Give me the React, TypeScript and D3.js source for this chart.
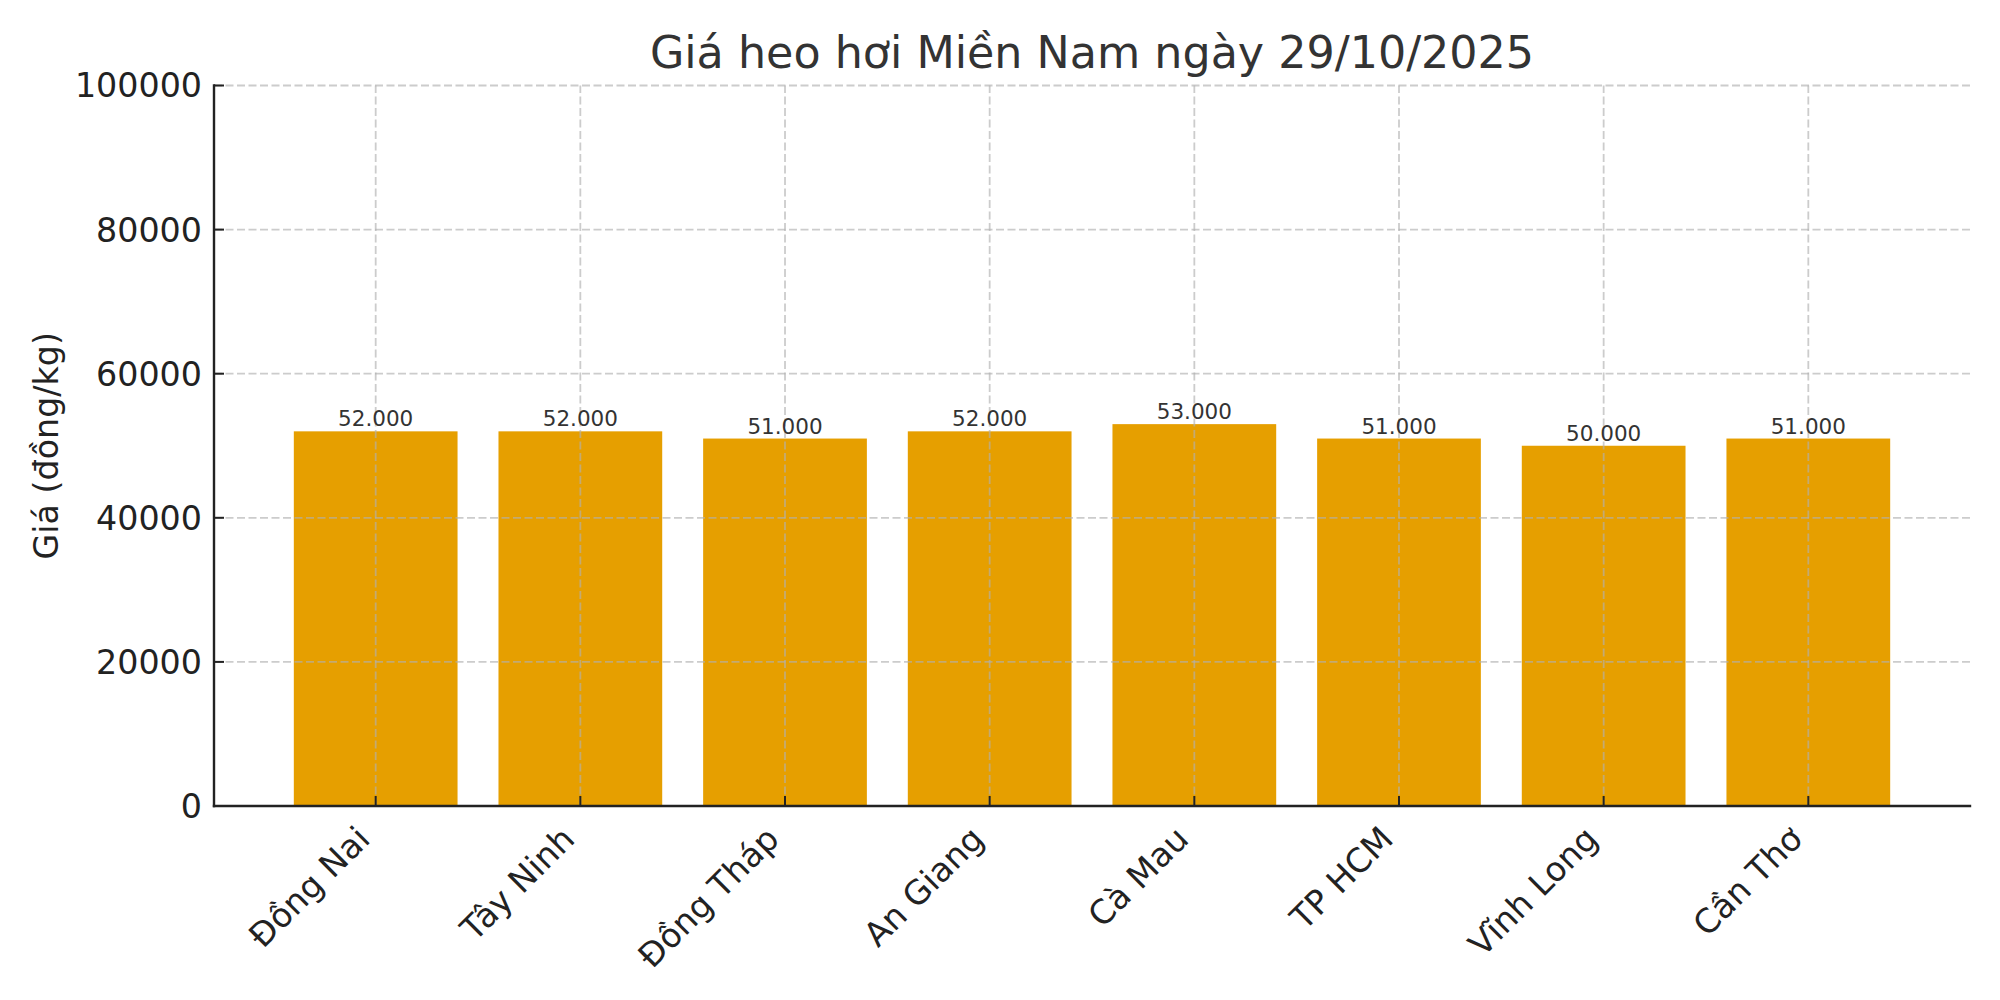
import React from "react";
import * as d3 from "d3";

const categories = ["Đồng Nai", "Tây Ninh", "Đồng Tháp", "An Giang", "Cà Mau", "TP HCM", "Vĩnh Long", "Cần Thơ"];
const prices = [52000, 52000, 51000, 52000, 53000, 51000, 50000, 51000];
const yTicks = [0, 20000, 40000, 60000, 80000, 100000];
const title = "Giá heo hơi Miền Nam ngày 29/10/2025";
const yLabel = "Giá (đồng/kg)";

const W = 2000;
const H = 1000;
const M = { left: 214, right: 30, top: 85.5, bottom: 194 };
const FONT = "'DejaVu Sans', sans-serif";
const BAR = "#E69F00";

const viLocale = d3.formatLocale({ decimal: ",", thousands: ".", grouping: [3], currency: ["", "đ"] });
const fmtVal = viLocale.format(",d");
const fmtTick = d3.format("d");

export default function App() {
  const barW = 0.8;
  const lo = -barW / 2;
  const hi = categories.length - 1 + barW / 2;
  const pad = (hi - lo) * 0.05;
  const x = d3.scaleLinear().domain([lo - pad, hi + pad]).range([M.left, W - M.right]);
  const y = d3.scaleLinear().domain([0, 100000]).range([H - M.bottom, M.top]);
  const [x0, x1] = x.range();
  const [y0, y1] = y.range();
  const tickLen = 10;

  return (
    <svg
      width={W}
      height={H}
      viewBox={`0 0 ${W} ${H}`}
      style={{ position: "absolute", left: 0, top: 0, background: "#fff" }}
      fontFamily={FONT}
    >
      <rect x={0} y={0} width={W} height={H} fill="#fff" />
      {/* bars */}
      {prices.map((v, i) => (
        <rect
          key={"b" + i}
          x={x(i - barW / 2)}
          width={x(i + barW / 2) - x(i - barW / 2)}
          y={y(v)}
          height={y(0) - y(v)}
          fill={BAR}
        />
      ))}
      {/* grid over bars */}
      <g stroke="#b0b0b0" strokeOpacity={0.65} strokeWidth={1.8} strokeDasharray="8,3.5">
        {yTicks.map((t) => (
          <line key={"gy" + t} x1={x0} x2={x1} y1={y(t)} y2={y(t)} />
        ))}
        {categories.map((c, i) => (
          <line key={"gx" + i} x1={x(i)} x2={x(i)} y1={y0} y2={y1} />
        ))}
      </g>
      {/* spines */}
      <line x1={x0} x2={x0} y1={y0} y2={y1} stroke="#222" strokeWidth={2.4} strokeLinecap="square" />
      <line x1={x0} x2={x1} y1={y0} y2={y0} stroke="#222" strokeWidth={2.4} strokeLinecap="square" />
      {/* y ticks */}
      {yTicks.map((t) => (
        <g key={"yt" + t}>
          <line x1={x0} x2={x0 + tickLen} y1={y(t)} y2={y(t)} stroke="#222" strokeWidth={2} />
          <text x={x0 - 12} y={y(t)} dy="0.36em" textAnchor="end" fontSize={33.3} fill="#222">
            {fmtTick(t)}
          </text>
        </g>
      ))}
      {/* x ticks */}
      {categories.map((c, i) => (
        <g key={"xt" + i}>
          <line x1={x(i)} x2={x(i)} y1={y0} y2={y0 - tickLen} stroke="#222" strokeWidth={2} />
          <text
            transform={`translate(${x(i) - 4},${y0 + 35}) rotate(-45)`}
            textAnchor="end"
            fontSize={33.3}
            fill="#222"
          >
            {c}
          </text>
        </g>
      ))}
      {/* value labels */}
      {prices.map((v, i) => (
        <text key={"v" + i} x={x(i)} y={y(v) - 5} textAnchor="middle" fontSize={21.5} fill="#333">
          {fmtVal(v)}
        </text>
      ))}
      {/* y label */}
      <text
        transform={`translate(58,${(y0 + y1) / 2}) rotate(-90)`}
        textAnchor="middle"
        fontSize={33.3}
        fill="#222"
      >
        {yLabel}
      </text>
      {/* title */}
      <text x={(x0 + x1) / 2} y={68} textAnchor="middle" fontSize={44.4} fill="#333">
        {title}
      </text>
    </svg>
  );
}
